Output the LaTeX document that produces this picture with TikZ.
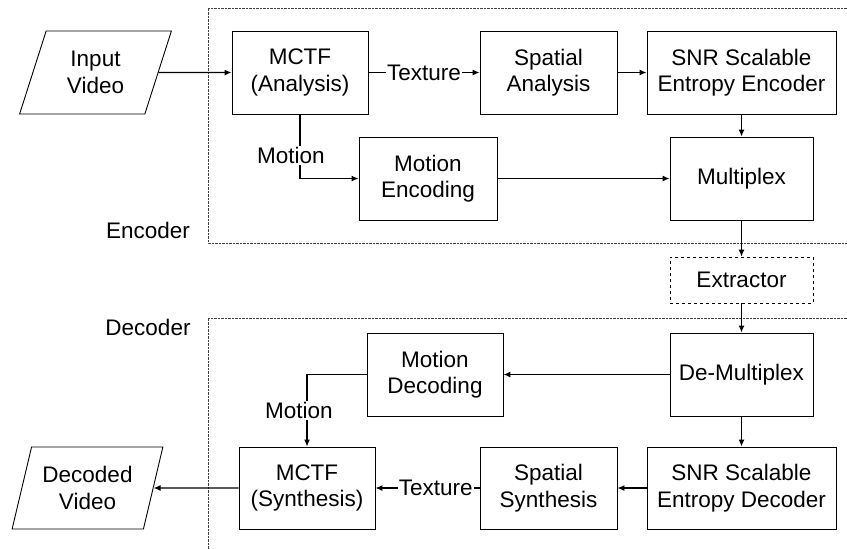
\documentclass[tikz,border=0pt]{standalone}
\usepackage{fontspec}
\setmainfont{Liberation Sans}
\usetikzlibrary{arrows.meta,shapes.geometric}
\begin{document}
\begin{tikzpicture}[x=1pt,y=-1pt,
  every node/.style={font=\fontsize{22.5}{26.5}\selectfont, align=center, inner sep=0pt},
  blk/.style={draw, line width=0.9pt, minimum height=83pt},
  para/.style={draw, line width=0.9pt, trapezium, trapezium left angle=70, trapezium right angle=110,
     trapezium stretches=true, minimum height=83pt},
  arr/.style={line width=1.2pt, -{Latex[length=7pt,width=6pt]}},
  lbl/.style={fill=white, inner sep=1pt},
  region/.style={line width=0.7pt, black!75, dash pattern=on 0.7pt off 0.7pt}
]
\useasboundingbox (0,0) rectangle (847,549);
% regions
\draw[region] (847,8) -- (208,8) -- (208,243) -- (847,243);
\draw[region] (847,318) -- (208,318) -- (208,549);
\node (enc) at (148,230) {Encoder};
\node (dec) at (148,327) {Decoder};
% encoder nodes
\node[para, minimum width=153pt] (inv) at (95.5,72.5) {Input\\Video};
\node[blk, minimum width=136pt] (mcta) at (300,72.5) {MCTF\\(Analysis)};
\node[blk, minimum width=137pt] (spa) at (548.5,72.5) {Spatial\\Analysis};
\node[blk, minimum width=189pt] (snre) at (741.5,72.5) {SNR Scalable\\Entropy Encoder};
\node[blk, minimum width=138pt] (menc) at (428,178.5) {Motion\\Encoding};
\node[blk, minimum width=143pt] (mux) at (741.5,178.5) {Multiplex};
% extractor
\node[blk, dashed, minimum width=143pt, minimum height=46pt, line width=0.7pt] (ext) at (741.5,280) {Extractor};
% decoder nodes
\node[blk, minimum width=143pt] (demux) at (741.5,374.5) {De-Multiplex};
\node[blk, minimum width=136pt] (mdec) at (435,374.5) {Motion\\Decoding};
\node[blk, minimum width=136pt, minimum height=82pt] (mcts) at (307,488) {MCTF\\(Synthesis)};
\node[blk, minimum width=137pt, minimum height=82pt] (sps) at (548.5,488) {Spatial\\Synthesis};
\node[blk, minimum width=189pt, minimum height=82pt] (snrd) at (741.5,488) {SNR Scalable\\Entropy Decoder};
\node[para, minimum width=151pt, minimum height=82pt] (outv) at (87.5,488) {Decoded\\Video};
% encoder connectors
\draw[arr] (inv.east) -- (mcta.west);
\draw[arr] (mcta.east) -- (spa.west) node[lbl, midway] (tex1) {Texture};
\draw[arr] (spa.east) -- (snre.west);
\draw[arr] (snre.south) -- (mux.north);
\draw[arr] (mcta.south) |- (menc.west) node[lbl, pos=0.32, xshift=-9pt] (mot1) {Motion};
\draw[arr] (menc.east) -- (mux.west);
\draw[arr] (mux.south) -- (ext.north);
\draw[arr] (ext.south) -- (demux.north);
% decoder connectors
\draw[arr] (demux.west) -- (mdec.east);
\draw[arr] (demux.south) -- (snrd.north);
\draw[arr] (snrd.west) -- (sps.east);
\draw[arr] (mdec.west) -| (mcts.north) node[lbl, pos=0.75, xshift=-8pt] (mot2) {Motion};
\draw[arr] (sps.west) -- (mcts.east) node[lbl, pos=0.42] (tex2) {Texture};
\draw[arr] (mcts.west) -- (outv.east);
\end{tikzpicture}
\end{document}
